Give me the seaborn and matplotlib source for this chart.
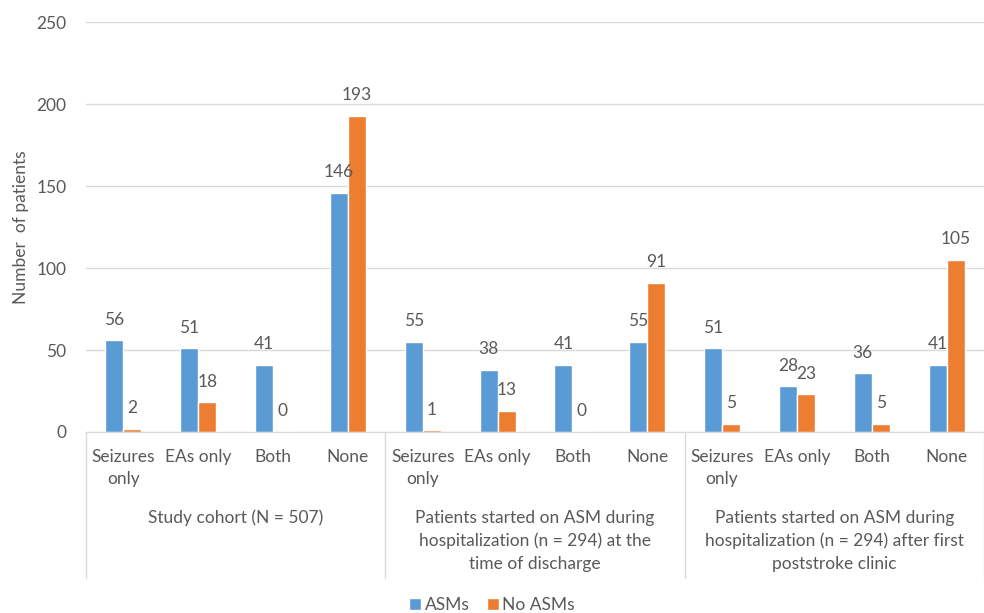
import matplotlib
matplotlib.use("Agg")
import matplotlib.pyplot as plt
import seaborn as sns
import pandas as pd

# data
groups = [
    "Study cohort (N = 507)",
    "Patients started on ASM during\nhospitalization (n = 294) at the\ntime of discharge",
    "Patients started on ASM during\nhospitalization (n = 294) after first\npoststroke clinic",
]
subcats = ["Seizures\nonly", "EAs only", "Both", "None"]
asms = [56, 51, 41, 146, 55, 38, 41, 55, 51, 28, 36, 41]
no_asms = [2, 18, 0, 193, 1, 13, 0, 91, 5, 23, 5, 105]
series = ["ASMs", "No ASMs"]
colors = ["#5B9BD5", "#ED7D31"]

keys = [f"{g}|{s}" for g in range(len(groups)) for s in subcats]
df = pd.DataFrame({
    "key": keys * 2,
    "value": asms + no_asms,
    "series": [series[0]] * len(keys) + [series[1]] * len(keys),
})

sns.set_style("white")
plt.rcParams["font.family"] = ["Lato", "DejaVu Sans"]
txt = "#595959"
fs = 12.5

fig = plt.figure(figsize=(9.84, 6.13), dpi=100)
ax = fig.add_axes([0.0874, 0.2953, 0.9126, 0.668])

sns.barplot(data=df, x="key", y="value", hue="series", order=keys,
            hue_order=series, palette=colors, width=0.48, saturation=1,
            ax=ax, legend=True)

for c in ax.containers:
    ax.bar_label(c, padding=9, fontsize=fs, color=txt)

ax.set_ylim(0, 250)
ax.set_xlim(-0.5, len(keys) - 0.5)
ax.set_yticks(range(0, 251, 50))
ax.yaxis.grid(True, color="#D9D9D9", linewidth=1)
ax.set_axisbelow(True)
for s in ["left", "right", "top"]:
    ax.spines[s].set_visible(False)
ax.spines["bottom"].set_color("#D9D9D9")

ax.set_xticks(range(len(keys)))
ax.set_xticklabels(subcats * len(groups), fontsize=fs, color=txt, linespacing=1.5)
ax.tick_params(axis="x", length=0, pad=12)
ax.tick_params(axis="y", length=0, pad=14, labelsize=fs, labelcolor=txt)
ax.set_xlabel("")
ax.set_ylabel("Number  of patients", fontsize=fs, color=txt, labelpad=5)

trans = ax.get_xaxis_transform()
for i in range(len(groups) + 1):
    x = i * len(subcats) - 0.5
    ax.plot([x, x], [0, -0.357], transform=trans, color="#D9D9D9",
            linewidth=1, clip_on=False)
for i, g in enumerate(groups):
    ax.text(i * len(subcats) + 1.5, -0.19, g, transform=trans, ha="center",
            va="top", fontsize=fs, color=txt, linespacing=1.5)

h, l = ax.get_legend_handles_labels()
ax.get_legend().remove()
fig.legend(h, l, loc="lower center", bbox_to_anchor=(0.5, -0.025), ncol=2,
           frameon=False, fontsize=fs, labelcolor=txt, handlelength=0.7,
           handleheight=0.7, handletextpad=0.2, columnspacing=1.0)

fig.savefig("out.png", dpi=100)
